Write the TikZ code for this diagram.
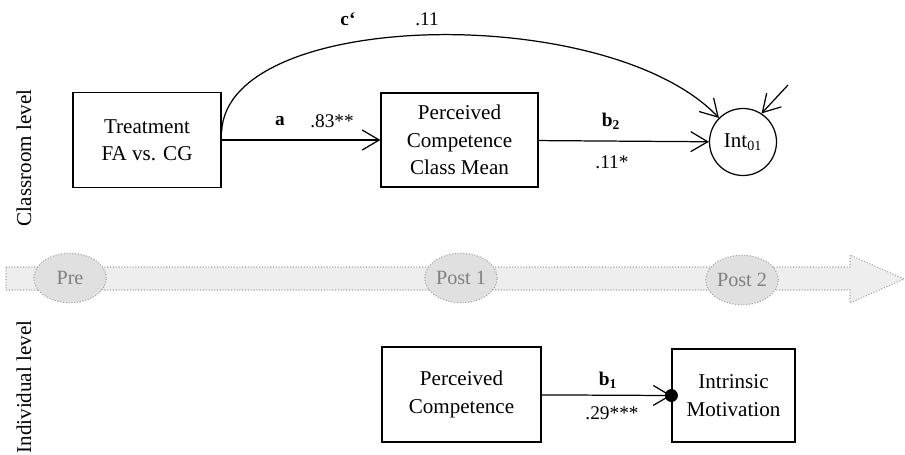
\documentclass[tikz,border=0pt]{standalone}
\usepackage{fontspec}
\setmainfont{Liberation Serif}
\usetikzlibrary{arrows.meta,shapes.geometric}
\definecolor{bandfill}{HTML}{EEEEEE}
\definecolor{wavefill}{HTML}{E0E0E0}
\definecolor{dotline}{HTML}{A4A4A4}
\definecolor{wavetext}{HTML}{808080}
\tikzset{
    >={Straight Barb[length=3.4mm,width=4mm]},
    varbox/.style={draw,line width=0.7pt,rectangle,align=center,inner sep=0pt,font=\fontsize{12}{15.5}\selectfont},
    latent/.style={draw,line width=0.7pt,circle,minimum size=1.34cm,inner sep=0pt,font=\fontsize{12}{14}\selectfont},
    coef/.style={inner sep=1pt,font=\fontsize{11}{13}\selectfont},
    tier/.style={rotate=90,inner sep=0pt,font=\fontsize{12}{14}\selectfont},
    timeline/.style={draw=dotline,densely dotted,line width=0.6pt,fill=bandfill},
    wavept/.style={ellipse,draw=dotline,densely dotted,line width=0.6pt,fill=wavefill,text=wavetext,
        minimum width=1.45cm,minimum height=0.99cm,inner sep=0pt,font=\fontsize{11.5}{13}\selectfont},
    conn/.style={->,line width=0.7pt}
}

\begin{document}
\begin{tikzpicture}[x=0.02cm,y=-0.02cm]
    \useasboundingbox (0,0) rectangle (905,454);
    \draw[timeline] (6,267) -- (850,267) -- (850,255) -- (904,279) -- (850,303) -- (850,290) -- (6,290) -- cycle;
    \node[wavept] (pre) at (70,278) {Pre};
    \node[wavept] (post1) at (461,278) {Post 1};
    \node[wavept] (post2) at (742,280) {Post 2};

    \node[tier] (cl) at (24,158) {Classroom level};
    \node[tier] (il) at (24,387) {Individual level};

    \node[varbox,minimum width=2.96cm,minimum height=1.9cm] (treat) at (147,140) {Treatment\\FA vs. CG};
    \node[varbox,minimum width=3.14cm,minimum height=1.88cm] (pcm) at (459.5,140) {Perceived\\Competence\\Class Mean};
    \node[latent] (int) at (743,142) {Int\textsubscript{01}};
    \node[varbox,minimum width=3.18cm,minimum height=1.9cm] (pc) at (461.5,394.5) {Perceived\\Competence};
    \node[varbox,minimum width=2.46cm,minimum height=1.86cm] (im) at (733.5,395.5) {Intrinsic\\Motivation};
    \coordinate (res) at (788,85);

    \draw[conn] (treat) -- (pcm);
    \draw[conn] (pcm) -- (int);
    \draw[conn] ([yshift=1.6mm]treat.east) .. controls +(5,-124) and +(-110,-116) .. (int.135);
    \draw[conn] (res) -- (int.57);
    \draw[conn] (pc) -- (im.west);
    \fill (im.west) circle (1.3mm);

    \node[coef] (la) at (280,121) {\textbf{a}};
    \node[coef] (lav) at (332,121) {.83**};
    \node[coef] (lc) at (348,19) {\textbf{c‘}};
    \node[coef] (lcv) at (427,19) {.11};
    \node[coef] (lb2) at (611,121) {\textbf{b\textsubscript{2}}};
    \node[coef] (lb2v) at (612,162) {.11*};
    \node[coef] (lb1) at (608,380) {\textbf{b\textsubscript{1}}};
    \node[coef] (lb1v) at (612,413) {.29***};
\end{tikzpicture}
\end{document}
